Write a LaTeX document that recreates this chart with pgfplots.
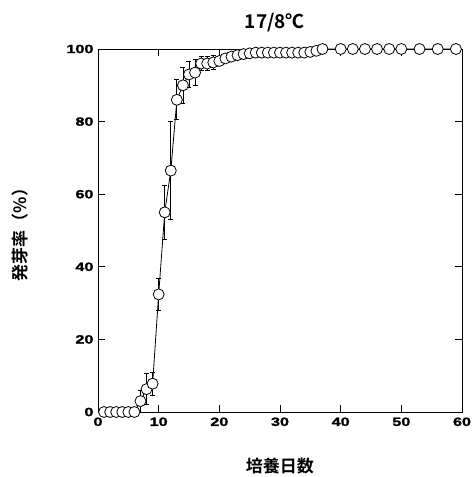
\documentclass[border=0pt]{standalone}
\usepackage{pgfplots}
\pgfplotsset{compat=1.18}
\usepackage{fontspec}
\setmainfont{Liberation Sans}
\newfontfamily\tickfont{Liberation Sans Bold}[FakeStretch=1.35,FakeBold=1.5]
\newfontfamily\cjk{Noto Sans CJK JP Bold}
\begin{document}
\begin{tikzpicture}
\useasboundingbox (0,0) rectangle (472pt,477pt);
\begin{axis}[
  at={(98pt,65pt)}, anchor=south west,
  scale only axis, width=364pt, height=363pt,
  xmin=0, xmax=60, ymin=0, ymax=100,
  xtick={0,10,...,60}, ytick={0,20,...,100},
  tick align=inside, major tick length=7pt,
  every tick/.style={black, line width=0.8pt},
  axis line style={line width=0.8pt},
  /pgf/number format/assume math mode=true,
  ticklabel style={font=\tickfont\fontsize{12}{12}\selectfont},
  yticklabel style={xshift=-1pt},
  xticklabel style={yshift=-2pt},
  title={\cjk\fontsize{19}{19}\selectfont 17/8℃},
  title style={at={(axis description cs:0.486,1.055)}, anchor=center},
  xlabel={\cjk\fontsize{17}{17}\selectfont 培養日数},
  xlabel style={at={(axis description cs:0.5,-0.149)}, anchor=center},
  ylabel={\cjk\fontsize{17}{17}\selectfont 発芽率（\%）},
  ylabel style={at={(axis description cs:-0.214,0.5)}, anchor=center, rotate=0},
  clip=false,
]
\addplot[black, line width=0.8pt, mark=*, mark size=5.5pt,
  mark options={fill=white, draw=black, line width=0.8pt},
  error bars/.cd, y dir=both, y explicit,
  error bar style={line width=0.8pt},
  error mark options={line width=0.8pt, mark size=2.5pt, rotate=90}]
table[x=x, y=y, y error=e] {
x y e
1 0 0
2 0 0
3 0 0
4 0 0
5 0 0
6 0 0
7 3 3
8 6.3 4.2
9 7.8 3.2
10 32.4 4.5
11 55 7.5
12 66.5 13.5
13 86 5.5
14 90 5
15 93 3.5
16 93.5 3.5
17 96 2
18 96 2
19 96.3 2
20 96.7 1
21 97.4 0.8
22 97.9 0.5
23 98.3 0.4
24 98.6 0.3
25 98.8 0
26 99 0
27 99 0
28 99 0
29 99 0
30 99 0
31 99 0
32 99 0
33 99 0
34 99 0
35 99.2 0
36 99.5 0
37 100 0
40 100 0
42 100 0
44 100 0
46 100 0
48 100 0
50 100 0
53 100 0
56 100 0
59 100 0
};
\end{axis}
\end{tikzpicture}
\end{document}
